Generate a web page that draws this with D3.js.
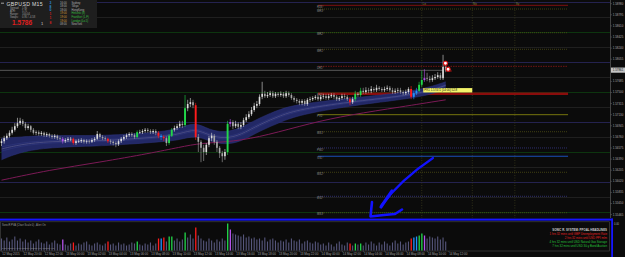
<!DOCTYPE html>
<html>
<head>
<meta charset="utf-8">
<script src="https://cdn.jsdelivr.net/npm/d3@7"></script>
<style>
html, body { margin: 0; padding: 0; background: #0b0b0b; overflow: hidden; }
svg { display: block; font-family: "Liberation Sans", Arial, sans-serif; }
</style>
</head>
<body>
<div id="chart"></div>
<script>
// ---- datos (GBPUSD M15) ----
const firstBar = "2015-05-12 18:00";
const firstOpen = 1.5665;

const closes = [
  1.5668, 1.5673, 1.5677, 1.5682, 1.5687, 1.5693, 1.5698, 1.5702,
  1.5697, 1.5690, 1.5693, 1.5687, 1.5682, 1.5683, 1.5680, 1.5682,
  1.5678, 1.5680, 1.5677, 1.5675, 1.5677, 1.5673, 1.5672, 1.5668,
  1.5670, 1.5672, 1.5672, 1.5665, 1.5668, 1.5668, 1.5670, 1.5667,
  1.5668, 1.5667, 1.5670, 1.5672, 1.5680, 1.5675, 1.5673, 1.5672,
  1.5668, 1.5667, 1.5665, 1.5663, 1.5668, 1.5672, 1.5675, 1.5678,
  1.5680, 1.5678, 1.5675, 1.5683, 1.5683, 1.5685, 1.5687, 1.5685,
  1.5683, 1.5685, 1.5682, 1.5677, 1.5675, 1.5673, 1.5665, 1.5677,
  1.5687, 1.5690, 1.5693, 1.5697, 1.5695, 1.5723, 1.5730, 1.5733,
  1.5728, 1.5675, 1.5667, 1.5657, 1.5650, 1.5662, 1.5673, 1.5677,
  1.5667, 1.5657, 1.5648, 1.5643, 1.5650, 1.5697, 1.5700, 1.5693,
  1.5697, 1.5692, 1.5695, 1.5703, 1.5708, 1.5713, 1.5720, 1.5727,
  1.5730, 1.5742, 1.5747, 1.5743, 1.5745, 1.5748, 1.5743, 1.5747,
  1.5745, 1.5747, 1.5743, 1.5748, 1.5745, 1.5740, 1.5737, 1.5735,
  1.5732, 1.5735, 1.5730, 1.5737, 1.5738, 1.5740, 1.5742, 1.5738,
  1.5742, 1.5743, 1.5740, 1.5743, 1.5745, 1.5742, 1.5738, 1.5740,
  1.5743, 1.5742, 1.5738, 1.5733, 1.5738, 1.5747, 1.5745, 1.5752,
  1.5750, 1.5753, 1.5752, 1.5755, 1.5753, 1.5757, 1.5755, 1.5753,
  1.5755, 1.5757, 1.5753, 1.5750, 1.5752, 1.5753, 1.5750, 1.5748,
  1.5750, 1.5755, 1.5742, 1.5748, 1.5752, 1.5762, 1.5770, 1.5773,
  1.5772, 1.5770, 1.5773, 1.5775, 1.5778, 1.5773, 1.5792, 1.5786
];

const highs = [
  1.5672, 1.5677, 1.5681, 1.5686, 1.5692, 1.5698, 1.5707, 1.5707,
  1.5705, 1.5700, 1.5697, 1.5695, 1.5690, 1.5686, 1.5686, 1.5685,
  1.5684, 1.5683, 1.5682, 1.5680, 1.5680, 1.5679, 1.5676, 1.5675,
  1.5673, 1.5675, 1.5675, 1.5674, 1.5671, 1.5672, 1.5673, 1.5672,
  1.5671, 1.5671, 1.5673, 1.5675, 1.5685, 1.5682, 1.5678, 1.5676,
  1.5674, 1.5671, 1.5669, 1.5668, 1.5671, 1.5675, 1.5678, 1.5681,
  1.5683, 1.5683, 1.5681, 1.5686, 1.5687, 1.5688, 1.5690, 1.5690,
  1.5688, 1.5688, 1.5688, 1.5685, 1.5680, 1.5678, 1.5676, 1.5680,
  1.5690, 1.5694, 1.5697, 1.5702, 1.5702, 1.5745, 1.5737, 1.5740,
  1.5737, 1.5732, 1.5680, 1.5670, 1.5662, 1.5665, 1.5677, 1.5682,
  1.5680, 1.5670, 1.5660, 1.5652, 1.5655, 1.5702, 1.5705, 1.5703,
  1.5702, 1.5700, 1.5700, 1.5707, 1.5713, 1.5718, 1.5725, 1.5732,
  1.5735, 1.5746, 1.5767, 1.5752, 1.5750, 1.5752, 1.5752, 1.5750,
  1.5750, 1.5751, 1.5750, 1.5752, 1.5751, 1.5748, 1.5743, 1.5740,
  1.5738, 1.5738, 1.5738, 1.5740, 1.5742, 1.5743, 1.5745, 1.5745,
  1.5745, 1.5747, 1.5747, 1.5747, 1.5748, 1.5748, 1.5745, 1.5743,
  1.5747, 1.5747, 1.5745, 1.5742, 1.5742, 1.5752, 1.5750, 1.5757,
  1.5757, 1.5758, 1.5757, 1.5760, 1.5758, 1.5762, 1.5760, 1.5758,
  1.5759, 1.5761, 1.5760, 1.5757, 1.5756, 1.5757, 1.5757, 1.5753,
  1.5754, 1.5758, 1.5760, 1.5752, 1.5757, 1.5767, 1.5785, 1.5788,
  1.5782, 1.5777, 1.5778, 1.5780, 1.5783, 1.5782, 1.5812, 1.5800
];

const lows = [
  1.5660, 1.5664, 1.5670, 1.5674, 1.5679, 1.5684, 1.5690, 1.5695,
  1.5693, 1.5686, 1.5687, 1.5683, 1.5679, 1.5678, 1.5677, 1.5677,
  1.5675, 1.5675, 1.5674, 1.5672, 1.5672, 1.5670, 1.5669, 1.5664,
  1.5665, 1.5667, 1.5668, 1.5662, 1.5662, 1.5665, 1.5665, 1.5664,
  1.5664, 1.5664, 1.5665, 1.5667, 1.5670, 1.5672, 1.5670, 1.5669,
  1.5665, 1.5663, 1.5661, 1.5658, 1.5660, 1.5665, 1.5669, 1.5672,
  1.5675, 1.5675, 1.5672, 1.5673, 1.5680, 1.5680, 1.5682, 1.5682,
  1.5680, 1.5680, 1.5678, 1.5673, 1.5670, 1.5668, 1.5660, 1.5662,
  1.5675, 1.5684, 1.5687, 1.5690, 1.5690, 1.5692, 1.5718, 1.5725,
  1.5723, 1.5670, 1.5650, 1.5633, 1.5635, 1.5645, 1.5658, 1.5668,
  1.5662, 1.5650, 1.5640, 1.5633, 1.5637, 1.5645, 1.5692, 1.5688,
  1.5690, 1.5688, 1.5688, 1.5692, 1.5700, 1.5705, 1.5710, 1.5717,
  1.5723, 1.5727, 1.5738, 1.5740, 1.5740, 1.5742, 1.5740, 1.5740,
  1.5742, 1.5742, 1.5740, 1.5740, 1.5742, 1.5737, 1.5733, 1.5731,
  1.5728, 1.5728, 1.5727, 1.5727, 1.5733, 1.5735, 1.5737, 1.5735,
  1.5735, 1.5738, 1.5737, 1.5737, 1.5740, 1.5738, 1.5735, 1.5735,
  1.5737, 1.5738, 1.5735, 1.5728, 1.5730, 1.5735, 1.5742, 1.5742,
  1.5747, 1.5747, 1.5748, 1.5748, 1.5750, 1.5750, 1.5752, 1.5750,
  1.5750, 1.5752, 1.5750, 1.5747, 1.5747, 1.5748, 1.5747, 1.5745,
  1.5745, 1.5747, 1.5738, 1.5738, 1.5745, 1.5750, 1.5758, 1.5767,
  1.5768, 1.5766, 1.5767, 1.5770, 1.5772, 1.5770, 1.5770, 1.5783
];

const volumes = [
  1200, 1000, 1300, 900, 1100, 1400, 1000, 1200, 900, 1100, 800, 1000,
  700, 900, 1100, 800, 700, 900, 600, 800, 1000, 700, 600, 1100,
  600, 500, 700, 800, 500, 700, 600, 800, 900, 600, 500, 700,
  800, 600, 500, 700, 900, 600, 700, 500, 800, 600, 700, 500,
  600, 800, 700, 900, 600, 500, 700, 600, 800, 500, 700, 1200,
  1200, 1300, 900, 1400, 1400, 1000, 1200, 900, 1100, 1800, 1300, 1600,
  1200, 2300, 1500, 1200, 1000, 900, 1200, 1000, 800, 1100, 900, 1200,
  1000, 2700, 2100, 1700, 1600, 1500, 1400, 1600, 1300, 1400, 1200, 1300,
  1100, 1200, 1000, 1300, 900, 1100, 1200, 1000, 800, 1000, 900, 1100,
  800, 1200, 1000, 900, 1100, 700, 900, 1000, 800, 700, 900, 800,
  600, 700, 500, 800, 600, 400, 700, 900, 600, 500, 800, 700,
  500, 700, 600, 700, 500, 800, 600, 900, 700, 500, 800, 600,
  900, 700, 500, 800, 1000, 700, 900, 600, 800, 900, 1200, 1300,
  1400, 1500, 1700, 1500, 1200, 1400, 1300, 1200, 1400, 1100, 1300, 900
];

// barras VSA coloreadas
const vsaIndex = [23, 27, 40, 51, 59, 60, 61, 63, 64, 69, 73, 85, 86, 131, 133, 135, 154, 155, 156, 157, 158, 159];
const vsaType  = ["m", "r", "r", "g", "r", "b", "r", "g", "g", "g", "r", "g", "m", "r", "g", "g", "r", "b", "b", "g", "g", "m"];

// cinta de medias (bordes) y media lenta
const bandIndex = [0, 7, 18, 37, 48, 60, 67, 73, 78, 84, 90, 97, 105, 112, 131, 150, 161, 167];
const bandUpper = [1.5673, 1.5675, 1.5678, 1.5677, 1.5680, 1.5683, 1.5690, 1.5700, 1.5687, 1.5682, 1.5690, 1.5707, 1.5722, 1.5730, 1.5740, 1.5748, 1.5758, 1.5767];
const bandLower = [1.5637, 1.5650, 1.5658, 1.5660, 1.5663, 1.5667, 1.5670, 1.5678, 1.5668, 1.5662, 1.5667, 1.5685, 1.5700, 1.5712, 1.5727, 1.5737, 1.5745, 1.5755];
const maIndex  = [0, 18, 37, 56, 67, 75, 87, 100, 116, 131, 150, 167];
const maValues = [1.5603, 1.5620, 1.5633, 1.5648, 1.5658, 1.5665, 1.5667, 1.5678, 1.5698, 1.5712, 1.5725, 1.5737];

// pivotes del dia
const pivotNames  = ["R3S", "MR3", "MR2", "MR1", "DR1", "PR1", "PV1", "MS1", "PM1", "SSL", "MS2", "BS2", "MS3"];
const pivotLevels = [1.58945, 1.58883, 1.58488, 1.58212, 1.57928, 1.57472, 1.57122, 1.56838, 1.56567, 1.56428, 1.56162, 1.55762, 1.55488];
const pivotFrom = "2015-05-13 23:45";
const pivotTo   = "2015-05-14 23:15";

const gridLevels = [1.5900, 1.5875, 1.5850, 1.5825, 1.5800, 1.5775, 1.5750, 1.5725, 1.5700, 1.5675, 1.5650, 1.5625, 1.5600, 1.5575, 1.5550];
const priceTicks = [1.58980, 1.58795, 1.58610, 1.58425, 1.58240, 1.58055, 1.57685, 1.57500, 1.57315, 1.57130, 1.56945, 1.56760, 1.56575, 1.56390, 1.56205, 1.56020, 1.55835, 1.55650, 1.55465];
const bidPrice = 1.57861;

const timeLabels = [
  "2015-05-12 18:00", "2015-05-12 20:00", "2015-05-12 22:00", "2015-05-13 00:00", "2015-05-13 02:00",
  "2015-05-13 04:00", "2015-05-13 06:00", "2015-05-13 08:00", "2015-05-13 10:00", "2015-05-13 12:00",
  "2015-05-13 14:00", "2015-05-13 16:00", "2015-05-13 18:00", "2015-05-13 20:00", "2015-05-13 22:00",
  "2015-05-14 00:00", "2015-05-14 02:00", "2015-05-14 04:00", "2015-05-14 06:00", "2015-05-14 08:00",
  "2015-05-14 10:00", "2015-05-14 12:00"
];

const sessionLines = ["2015-05-14 09:30", "2015-05-14 14:15", "2015-05-14 18:15"];
const sessionTags  = ["Lo", "Ny", "Sy"];

const fractalIndex = [166, 167];
const fractalPrice = [1.5798, 1.5788];

// panel de informacion
const infoLabels = ["Spread:", "ATR:", "Range:", "Swaps:"];
const infoValues = ["1.90", "5.75", "100.04", "0.95 / -4.58"];
const markets = ["Sydney", "Tokyo", "HongKong", "Helsinki (8)", "Frankfurt (L.F)", "London (Lo.5)", "NewYork"];
const marketTimes = ["16:00", "18:00", "18:00", "19:00", "19:00", "19:00", "08:00"];
const marketOpen = [false, false, false, true, true, true, false];
const headlines = [
  "SONIC R. SYSTEM: PPOAL HEADLINES",
  "1 hrs 32 mins until GBP Unemployment Rate",
  "2 hrs 32 mins until USD PPI m/m",
  "4 hrs 32 mins until USD Natural Gas Storage",
  "7 hrs 32 mins until USD 30-y Bond Auction"
];

// ---- grafico ----
const W = 625, H = 257;
const parseTime = d3.timeParse("%Y-%m-%d %H:%M");
const t0 = parseTime(firstBar);
const barTime = i => d3.timeMinute.offset(t0, i * 15);

const bars = closes.map((c, i) => ({
  i, t: barTime(i), o: i ? closes[i - 1] : firstOpen, h: highs[i], l: lows[i], c, v: volumes[i], k: null
}));
vsaIndex.forEach((idx, j) => { bars[idx].k = vsaType[j]; });

const vsaColor = { g: "#22d84a", r: "#ff1c1c", b: "#2090ff", m: "#b453ea" };

const x = d3.scaleTime().domain([t0, barTime(closes.length - 1)]).range([1.5, 445.7]);
const y = d3.scaleLinear().domain([1.555, 1.59]).range([212, 2]);
const yv = d3.scaleLinear().domain([0, 2800]).range([250.5, 222.5]);

const svg = d3.select("#chart").append("svg")
  .attr("width", W).attr("height", H);

svg.append("rect").attr("width", W).attr("height", H).attr("fill", "#0b0b0b");

const main = svg.append("g");

// lineas de niveles redondos
main.selectAll(".grid").data(gridLevels).join("line")
  .attr("x1", 0).attr("x2", 610)
  .attr("y1", d => Math.round(y(d)) + 0.5).attr("y2", d => Math.round(y(d)) + 0.5)
  .attr("stroke", d => {
    const k = Math.round(d * 10000) % 100;
    return k === 0 ? "#24224f" : (k === 50 ? "#0d350f" : "#1f1f1f");
  })
  .attr("stroke-width", 1)
  .attr("shape-rendering", "crispEdges");

// lineas verticales de sesion
main.selectAll(".ses").data(sessionLines).join("line")
  .attr("x1", d => x(parseTime(d))).attr("x2", d => x(parseTime(d)))
  .attr("y1", 0).attr("y2", 218)
  .attr("stroke", "#3f3f1c").attr("stroke-width", 0.7).attr("stroke-dasharray", "1,1.5");
main.selectAll(".sesTxt").data(sessionLines).join("text")
  .attr("x", d => x(parseTime(d)) + 0.8).attr("y", 4.5)
  .attr("font-size", 3).attr("fill", "#8a8a3a")
  .text((d, i) => sessionTags[i]);

// pivotes
const pivotLook = {
  R3S: { c: "#8a1010", w: 0.9, d: null },
  MR3: { c: "#4f4f14", w: 0.8, d: "1,1" },
  MR2: { c: "#4f4f14", w: 0.8, d: "1,1" },
  MR1: { c: "#4f4f14", w: 0.8, d: "1,1" },
  DR1: { c: "#8e1616", w: 0.8, d: "1.5,1" },
  PR1: { c: "#8a0c0c", w: 2.4, d: null },
  PV1: { c: "#76740e", w: 1, d: null },
  MS1: { c: "#4f4f14", w: 0.8, d: "1,1" },
  PM1: { c: "#3a3a88", w: 0.8, d: "1,1" },
  SSL: { c: "#1a50b8", w: 1.1, d: null },
  MS2: { c: "#4f4f14", w: 0.8, d: "1,1" },
  BS2: { c: "#3a3a88", w: 0.8, d: "1,1" },
  MS3: { c: "#4f4f14", w: 0.8, d: "1,1" }
};
const px0 = x(parseTime(pivotFrom)), px1 = x(parseTime(pivotTo));
const pv = main.selectAll(".pv").data(pivotLevels).join("g");
pv.append("line")
  .attr("x1", px0).attr("x2", px1)
  .attr("y1", d => y(d)).attr("y2", d => y(d))
  .attr("stroke", (d, i) => pivotLook[pivotNames[i]].c)
  .attr("stroke-width", (d, i) => pivotLook[pivotNames[i]].w)
  .attr("stroke-dasharray", (d, i) => pivotLook[pivotNames[i]].d);
pv.append("text")
  .attr("x", px0 - 1).attr("y", d => y(d) + 2.6)
  .attr("font-size", 2.8).attr("fill", "#8c8c8c")
  .text((d, i) => pivotNames[i] + "°");

// cinta (banda azul)
const bandPts = bandIndex.map((b, j) => ({ t: barTime(b), u: bandUpper[j], l: bandLower[j] }));
main.append("path").datum(bandPts)
  .attr("fill", "#222866")
  .attr("d", d3.area().curve(d3.curveBasis).x(d => x(d.t)).y0(d => y(d.l)).y1(d => y(d.u)));
[0, 0.4, 0.5, 0.6, 1].forEach(f => {
  main.append("path").datum(bandPts)
    .attr("fill", "none")
    .attr("stroke", f === 0.5 ? "#6e6ea0" : (f === 0 || f === 1 ? "#2e3480" : "#343c86"))
    .attr("stroke-width", 0.5)
    .attr("d", d3.line().curve(d3.curveBasis).x(d => x(d.t)).y(d => y(d.u + (d.l - d.u) * f)));
});

// media lenta magenta
main.append("path").datum(maIndex.map((m, j) => ({ t: barTime(m), v: maValues[j] })))
  .attr("fill", "none").attr("stroke", "#7c1a56").attr("stroke-width", 1)
  .attr("d", d3.line().curve(d3.curveBasis).x(d => x(d.t)).y(d => y(d.v)));

// linea bid
main.append("line")
  .attr("x1", 0).attr("x2", 443).attr("y1", y(bidPrice)).attr("y2", y(bidPrice))
  .attr("stroke", "#7a7a7a").attr("stroke-width", 0.7);

// velas
const candle = main.selectAll(".cd").data(bars).join("g");
const candleColor = d => d.k ? vsaColor[d.k] : (d.c >= d.o ? "#dedede" : "#a8a8a8");
candle.append("line")
  .attr("x1", d => x(d.t)).attr("x2", d => x(d.t))
  .attr("y1", d => y(d.h)).attr("y2", d => y(d.l))
  .attr("stroke", candleColor).attr("stroke-width", 0.6);
candle.append("rect")
  .attr("x", d => x(d.t) - (d.k ? 0.95 : 0.8))
  .attr("width", d => d.k ? 1.9 : 1.6)
  .attr("y", d => y(Math.max(d.o, d.c)))
  .attr("height", d => Math.max(0.7, Math.abs(y(d.o) - y(d.c))))
  .attr("fill", candleColor);

// fractales
main.selectAll(".fr").data(fractalIndex).join("circle")
  .attr("cx", d => x(barTime(d)) + 2.4)
  .attr("cy", (d, j) => y(fractalPrice[j]))
  .attr("r", 2)
  .attr("fill", "#ffffff").attr("stroke", "#e01616").attr("stroke-width", 1.1);
main.append("line")
  .attr("x1", x(barTime(167)) + 3.5).attr("x2", x(barTime(167)) + 6)
  .attr("y1", y(fractalPrice[1]) + 1.8).attr("y2", y(fractalPrice[1]) + 1.8)
  .attr("stroke", "#e01616").attr("stroke-width", 0.8);

// etiqueta amarilla
const lbX = x(parseTime(sessionLines[0])) + 1.5;
main.append("rect").attr("x", lbX).attr("y", y(pivotLevels[5]) - 5.6)
  .attr("width", 49).attr("height", 4.4).attr("fill", "#f4f46a");
main.append("text").attr("x", lbX + 1).attr("y", y(pivotLevels[5]) - 2.2)
  .attr("font-size", 2.9).attr("fill", "#111")
  .text("PR1 1.57472 [14:00]  52.8");

// eje de precios
main.append("line").attr("x1", 610.5).attr("x2", 610.5).attr("y1", 0).attr("y2", 218)
  .attr("stroke", "#6a6a6a").attr("stroke-width", 0.6);
const yAxis = main.append("g").attr("transform", "translate(610.5,0)")
  .call(d3.axisRight(y).tickValues(priceTicks).tickSize(1.5).tickFormat(d3.format(".5f")));
yAxis.select(".domain").remove();
yAxis.selectAll("line").attr("stroke", "#6a6a6a").attr("stroke-width", 0.5);
yAxis.selectAll("text").attr("x", 2.3).attr("font-size", 2.9).attr("fill", "#a8a8a8")
  .attr("font-family", "Liberation Sans, Arial, sans-serif");
main.append("rect").attr("x", 611).attr("y", y(bidPrice) - 2.8).attr("width", 14).attr("height", 5.2)
  .attr("fill", "#c4c4c4");
main.append("text").attr("x", 612.8).attr("y", y(bidPrice) + 1.1)
  .attr("font-size", 2.9).attr("fill", "#111").text(d3.format(".5f")(bidPrice));

// panel informativo
const info = svg.append("g");
info.append("rect").attr("x", 0).attr("y", 0).attr("width", 97).attr("height", 28).attr("fill", "#1e1e1e");
info.append("line").attr("x1", 1).attr("x2", 4).attr("y1", 3.2).attr("y2", 3.2).attr("stroke", "#ddd").attr("stroke-width", 0.7);
info.append("text").attr("x", 6.5).attr("y", 5.6).attr("font-size", 5.2).attr("fill", "#dcdcdc")
  .attr("letter-spacing", 0.3).text("GBPUSD  M15");
info.selectAll(".il").data(infoLabels).join("text")
  .attr("x", 10).attr("y", (d, i) => 9.4 + i * 3)
  .attr("font-size", 2.6).attr("fill", "#a0a0a0").text(d => d);
info.selectAll(".iv").data(infoValues).join("text")
  .attr("x", 22).attr("y", (d, i) => 9.4 + i * 3)
  .attr("font-size", 2.6).attr("fill", "#a0a0a0").text(d => d);
info.append("text").attr("x", 12).attr("y", 25.2).attr("font-size", 6.6).attr("font-weight", "bold")
  .attr("fill", "#e01e1e").text(d3.format(".4f")(bidPrice).slice(0, 6));
info.append("text").attr("x", 41).attr("y", 25.2).attr("font-size", 4).attr("fill", "#cfcfcf")
  .text(d3.format(".5f")(bidPrice).slice(-1));
const sideChars = ["3", "8", "0", "1", "1", "8"];
info.selectAll(".sc").data(sideChars).join("text")
  .attr("x", 49.5).attr("y", (d, i) => i < 3 ? 4.2 + i * 3.4 : 14.8 + (i - 3) * 4.4)
  .attr("font-size", 3.4).attr("font-weight", "bold")
  .attr("fill", (d, i) => i < 3 ? "#2f8fd8" : "#d42020").text(d => d);
info.selectAll(".mt").data(marketTimes).join("text")
  .attr("x", 60).attr("y", (d, i) => 3.6 + i * 3.6)
  .attr("font-size", 2.7).attr("fill", (d, i) => marketOpen[i] ? "#d89a38" : "#b0b0b0").text(d => d);
info.selectAll(".mk").data(markets).join("text")
  .attr("x", 71.5).attr("y", (d, i) => 3.6 + i * 3.6)
  .attr("font-size", 2.7).attr("fill", (d, i) => marketOpen[i] ? "#38c040" : "#b0b0b0").text(d => d);

// flecha azul dibujada a mano
const arrow = svg.append("g").attr("fill", "none").attr("stroke", "#1212ff")
  .attr("stroke-linecap", "round").attr("stroke-linejoin", "round");
arrow.append("path").attr("d", "M433,158 C418,168 398,183 381,206").attr("stroke-width", 2.2);
arrow.append("path").attr("d", "M392,191 C388,197 384,202 381,207").attr("stroke-width", 3.2);
arrow.append("path").attr("d", "M372,202 L370.5,216.5 L384,215 L395,214 L402,209.5").attr("stroke-width", 2.6);

// separador y panel inferior
svg.append("rect").attr("x", 0).attr("y", 218.6).attr("width", 613).attr("height", 2).attr("fill", "#1515ff");
svg.append("rect").attr("x", 611.2).attr("y", 218.6).attr("width", 1.8).attr("height", 38.4).attr("fill", "#1515ff");
svg.append("rect").attr("x", 0.5).attr("y", 221.8).attr("width", 609).attr("height", 29.2)
  .attr("fill", "none").attr("stroke", "#4a4a4a").attr("stroke-width", 0.6);

const low = svg.append("g");
low.selectAll(".vb").data(bars).join("rect")
  .attr("x", d => x(d.t) - 0.55).attr("width", d => d.k ? 1.3 : 1.1)
  .attr("y", d => yv(d.v)).attr("height", d => yv(0) - yv(d.v))
  .attr("fill", d => d.k ? vsaColor[d.k] : "#56567c");

low.append("text").attr("x", 2).attr("y", 226.2).attr("font-size", 2.6).attr("fill", "#9a9a9a")
  .text("SonicR PVA (Chart Scale 0) , Alert On");
low.append("text").attr("x", 2).attr("y", 248.6).attr("font-size", 2.4).attr("fill", "#9a9a9a")
  .text("1.50 Climax | 1.00 Rising | Rising Vol | Climax Vol");
low.append("text").attr("x", 614).attr("y", 224.6).attr("font-size", 2.6).attr("fill", "#a8a8a8").text("0.00");

low.selectAll(".hl").data(headlines).join("text")
  .attr("x", 607).attr("y", (d, i) => 231 + i * 4)
  .attr("text-anchor", "end").attr("font-size", 2.9)
  .attr("font-weight", (d, i) => i === 0 ? "bold" : null)
  .attr("fill", (d, i) => i === 0 ? "#cfcfcf" : (i < 3 ? "#e02222" : "#26c23a"))
  .text(d => d);

// eje de tiempo
const xAxis = svg.append("g").attr("transform", "translate(0,251)")
  .call(d3.axisBottom(x)
    .tickValues(timeLabels.map(parseTime))
    .tickSize(1.2)
    .tickFormat((d, i) => i === 0 ? d3.timeFormat("%d %b %Y")(d) : d3.timeFormat("%d %b %H:%M")(d)));
xAxis.select(".domain").remove();
xAxis.selectAll("line").attr("stroke", "#6a6a6a").attr("stroke-width", 0.5);
xAxis.selectAll("text").attr("text-anchor", "start").attr("dx", 0.3).attr("y", 2.3)
  .attr("font-size", 3).attr("fill", "#a0a0a0")
  .attr("font-family", "Liberation Sans, Arial, sans-serif");
</script>
</body>
</html>
